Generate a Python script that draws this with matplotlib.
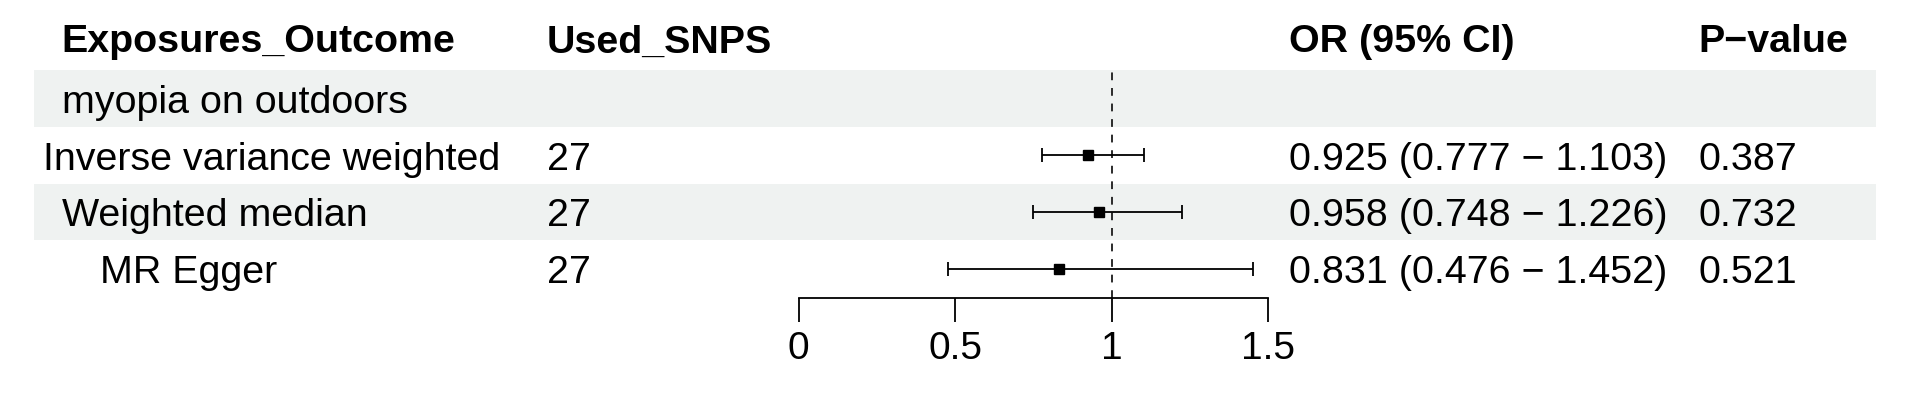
import matplotlib
matplotlib.use("Agg")
import matplotlib.pyplot as plt

# ---------------- data ----------------
headers = ["Exposures_Outcome", "Used_SNPS", "OR (95% CI)", "P\u2212value"]
labels = ["myopia on outdoors", "Inverse variance weighted", "Weighted median", "MR Egger"]
snps = ["", "27", "27", "27"]
or_est = [None, 0.925, 0.958, 0.831]
ci_low = [None, 0.777, 0.748, 0.476]
ci_high = [None, 1.103, 1.226, 1.452]
or_text = ["", "0.925 (0.777 \u2212 1.103)", "0.958 (0.748 \u2212 1.226)", "0.831 (0.476 \u2212 1.452)"]
p_text = ["", "0.387", "0.732", "0.521"]
xticks = [0, 0.5, 1, 1.5]
xtick_labels = ["0", "0.5", "1", "1.5"]

# ---------------- layout (pixels) ----------------
W, H = 1920, 398
DPI = 100
FONT = "Liberation Sans"
FS = 28.4
ROW_TOP0 = 70.3
PITCH = 56.7
CAP = 28.4  # cap height in px for baseline placement
col_x = [61.7, 547, 1289, 1698]
label_x = [61.7, 43, 61.7, 100]
band_x0, band_x1 = 34, 1876
band_color = "#eff2f1"
forest_x0, forest_x1 = 798.5, 1268.3
axis_y = 298

fig = plt.figure(figsize=(W / DPI, H / DPI), dpi=DPI)
fig.patch.set_facecolor("white")

ax_t = fig.add_axes([0, 0, 1, 1])
ax_t.set_xlim(0, W)
ax_t.set_ylim(H, 0)
ax_t.axis("off")

n = len(labels)
# background bands: alternating, first data row grey
for i in range(n):
    if i % 2 == 0:
        top = ROW_TOP0 + PITCH * i
        ax_t.axhspan(top, top + PITCH, xmin=band_x0 / W, xmax=band_x1 / W,
                     color=band_color, lw=0, zorder=0)

# headers
for hx, h in zip(col_x, headers):
    ax_t.text(hx, 52.5, h, fontsize=FS, fontweight="bold", family=FONT,
              ha="left", va="baseline", color="black")

# rows
for i in range(n):
    yc = ROW_TOP0 + PITCH * (i + 0.5)
    yb = yc + CAP / 2
    ax_t.text(label_x[i], yb, labels[i], fontsize=FS, family=FONT, ha="left", va="baseline")
    if snps[i]:
        ax_t.text(col_x[1], yb, snps[i], fontsize=FS, family=FONT, ha="left", va="baseline")
    if or_text[i]:
        ax_t.text(col_x[2], yb, or_text[i], fontsize=FS, family=FONT, ha="left", va="baseline")
    if p_text[i]:
        ax_t.text(col_x[3], yb, p_text[i], fontsize=FS, family=FONT, ha="left", va="baseline")

# forest axes
y_bottom_units = (axis_y - ROW_TOP0) / PITCH - 0.5
ax_f = fig.add_axes([forest_x0 / W, 1 - axis_y / H,
                     (forest_x1 - forest_x0) / W, (axis_y - ROW_TOP0) / H])
ax_f.set_xlim(0, 1.5)
ax_f.set_ylim(y_bottom_units, -0.5)
ax_f.patch.set_alpha(0)
for s in ["top", "right", "left"]:
    ax_f.spines[s].set_visible(False)
ax_f.spines["bottom"].set_linewidth(1.3)
ax_f.spines["bottom"].set_bounds(0, 1.5)
ax_f.set_yticks([])
ax_f.set_xticks(xticks)
ax_f.set_xticklabels(xtick_labels, fontsize=28.0, family=FONT)
ax_f.tick_params(axis="x", length=17.3, width=1.3, pad=6.5, color="black")

ax_f.axvline(1, color="#2b2b2b", lw=1.4, ls=(0, (4, 4)), zorder=1)

for i in range(n):
    if or_est[i] is None:
        continue
    ax_f.errorbar(or_est[i], i,
                  xerr=[[or_est[i] - ci_low[i]], [ci_high[i] - or_est[i]]],
                  fmt="s", color="black", ms=6.6, elinewidth=1.3,
                  capsize=4.7, capthick=1.3, zorder=3)

fig.savefig("out.png", dpi=DPI, facecolor="white")
